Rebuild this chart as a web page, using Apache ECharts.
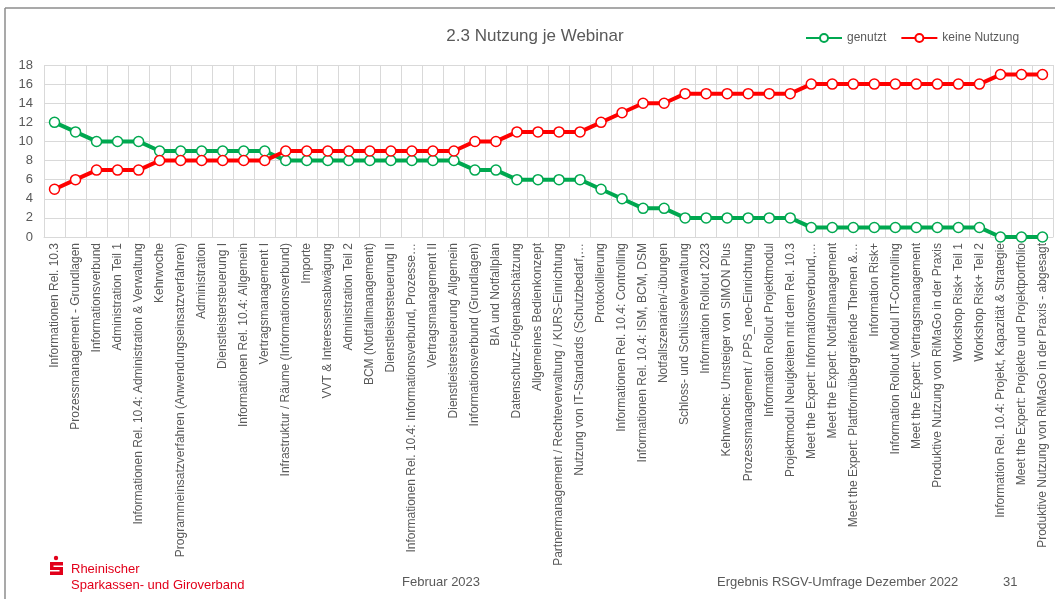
<!DOCTYPE html>
<html>
<head>
<meta charset="utf-8">
<script src="https://cdn.jsdelivr.net/npm/echarts@6/dist/echarts.min.js"></script>
<style>
  html, body { margin: 0; padding: 0; background: #fff; }
  #chart { width: 1055px; height: 599px; }
</style>
</head>
<body>
<div id="chart"></div>
<script>
var categories = [
  "Informationen Rel. 10.3",
  "Prozessmanagement - Grundlagen",
  "Informationsverbund",
  "Administration Teil 1",
  "Informationen Rel. 10.4: Administration & Verwaltung",
  "Kehrwoche",
  "Programmeinsatzverfahren (Anwendungseinsatzverfahren)",
  "Administration",
  "Dienstleistersteuerung I",
  "Informationen Rel. 10.4: Allgemein",
  "Vertragsmanagement I",
  "Infrastruktur / Räume (Informationsverbund)",
  "Importe",
  "VVT & Interessensabwägung",
  "Administration Teil 2",
  "BCM (Notfallmanagement)",
  "Dienstleistersteuerung II",
  "Informationen Rel. 10.4: Informationsverbund, Prozesse…",
  "Vertragsmanagement II",
  "Dienstleistersteuerung Allgemein",
  "Informationsverbund (Grundlagen)",
  "BIA und Notfallplan",
  "Datenschutz-Folgenabschätzung",
  "Allgemeines Bedienkonzept",
  "Partnermanagement / Rechteverwaltung / KURS-Einrichtung",
  "Nutzung von IT-Standards (Schutzbedarf,…",
  "Protokollierung",
  "Informationen Rel. 10.4: Controlling",
  "Informationen Rel. 10.4: ISM, BCM, DSM",
  "Notfallszenarien/-übungen",
  "Schloss- und Schlüsselverwaltung",
  "Information Rollout 2023",
  "Kehrwoche: Umsteiger von SIMON Plus",
  "Prozessmanagement / PPS_neo-Einrichtung",
  "Information Rollout Projektmodul",
  "Projektmodul Neuigkeiten mit dem Rel. 10.3",
  "Meet the Expert: Informationsverbund,…",
  "Meet the Expert: Notfallmanagement",
  "Meet the Expert: Plattformübergreifende Themen &…",
  "Information Risk+",
  "Information Rollout Modul IT-Controlling",
  "Meet the Expert: Vertragsmanagement",
  "Produktive Nutzung von RiMaGo in der Praxis",
  "Workshop Risk+ Teil 1",
  "Workshop Risk+ Teil 2",
  "Information Rel. 10.4: Projekt, Kapazität & Strategie",
  "Meet the Expert: Projekte und Projektportfolio",
  "Produktive Nutzung von RiMaGo in der Praxis - abgesagt"
];

var genutzt = [12, 11, 10, 10, 10, 9, 9, 9, 9, 9, 9, 8, 8, 8, 8, 8, 8, 8, 8, 8,
  7, 7, 6, 6, 6, 6, 5, 4, 3, 3, 2, 2, 2, 2, 2, 2, 1, 1, 1, 1, 1, 1, 1, 1, 1, 0, 0, 0];
var keineNutzung = [5, 6, 7, 7, 7, 8, 8, 8, 8, 8, 8, 9, 9, 9, 9, 9, 9, 9, 9, 9,
  10, 10, 11, 11, 11, 11, 12, 13, 14, 14, 15, 15, 15, 15, 15, 15, 16, 16, 16, 16, 16, 16, 16, 16, 16, 17, 17, 17];
var yTicks = [0, 18, 2];

var green = "#00a850";
var red = "#ff0000";
var textColor = "#595959";
var font = "Liberation Sans";

var chart = echarts.init(document.getElementById("chart"), null, { renderer: "canvas" });

function lineSeries(name, data, color) {
  return {
    name: name,
    type: "line",
    data: data,
    symbol: "circle",
    symbolSize: 10,
    lineStyle: { color: color, width: 4 },
    itemStyle: { color: "#fff", borderColor: color, borderWidth: 1.5 },
    emphasis: { disabled: true }
  };
}

var option = {
  animation: false,
  textStyle: { fontFamily: font },
  title: {
    text: "2.3 Nutzung je Webinar",
    left: 530,
    textAlign: "center",
    top: 23,
    textStyle: { fontSize: 17, fontWeight: "normal", color: textColor, fontFamily: font }
  },
  legend: {
    left: 800,
    top: 27,
    itemWidth: 36,
    itemHeight: 10,
    itemGap: 14,
    textStyle: { color: textColor, fontSize: 12, fontFamily: font },
    data: ["genutzt", "keine Nutzung"]
  },
  grid: { left: 44, right: 2, top: 65, bottom: 362, containLabel: false },
  xAxis: {
    type: "category",
    data: categories,
    boundaryGap: true,
    axisLine: { show: true, lineStyle: { color: "#d9d9d9" } },
    axisTick: { show: false },
    splitLine: { show: true, interval: 0, lineStyle: { color: "#d9d9d9" } },
    axisLabel: {
      interval: 0,
      rotate: 90,
      margin: 6,
      fontSize: 12,
      color: textColor,
      fontFamily: font
    }
  },
  yAxis: {
    type: "value",
    min: yTicks[0],
    max: yTicks[1],
    interval: yTicks[2],
    axisLine: { show: false },
    axisTick: { show: false },
    splitLine: { lineStyle: { color: "#d9d9d9" } },
    axisLabel: { fontSize: 13, color: textColor, margin: 11, fontFamily: font }
  },
  series: [
    lineSeries("genutzt", genutzt, green),
    lineSeries("keine Nutzung", keineNutzung, red)
  ],
  graphic: [
    // slide frame
    { type: "line", shape: { x1: 5, y1: 8, x2: 1055, y2: 8 }, style: { stroke: "#8c8c8c", lineWidth: 1.5 } },
    { type: "line", shape: { x1: 5, y1: 8, x2: 5, y2: 599 }, style: { stroke: "#8c8c8c", lineWidth: 1.5 } },
    // logo
    { type: "circle", shape: { cx: 56, cy: 558, r: 2.2 }, style: { fill: "#e2001a" } },
    { type: "rect", shape: { x: 50, y: 562, width: 13, height: 3.5 }, style: { fill: "#e2001a" } },
    { type: "rect", shape: { x: 50, y: 562, width: 3.5, height: 7 }, style: { fill: "#e2001a" } },
    { type: "rect", shape: { x: 50, y: 567, width: 13, height: 3 }, style: { fill: "#e2001a" } },
    { type: "rect", shape: { x: 59.5, y: 567, width: 3.5, height: 7 }, style: { fill: "#e2001a" } },
    { type: "rect", shape: { x: 50, y: 571.5, width: 13, height: 3.5 }, style: { fill: "#e2001a" } },
    { type: "text", left: 71, top: 563, style: { text: "Rheinischer", fill: "#e2001a", font: "13px Liberation Sans" } },
    { type: "text", left: 71, top: 579, style: { text: "Sparkassen- und Giroverband", fill: "#e2001a", font: "13px Liberation Sans" } },
    { type: "text", left: 402, top: 576, style: { text: "Februar 2023", fill: textColor, font: "13px Liberation Sans" } },
    { type: "text", left: 717, top: 576, style: { text: "Ergebnis RSGV-Umfrage Dezember 2022", fill: textColor, font: "13px Liberation Sans" } },
    { type: "text", left: 1003, top: 576, style: { text: "31", fill: textColor, font: "13px Liberation Sans" } }
  ]
};

chart.setOption(option);
</script>
</body>
</html>
